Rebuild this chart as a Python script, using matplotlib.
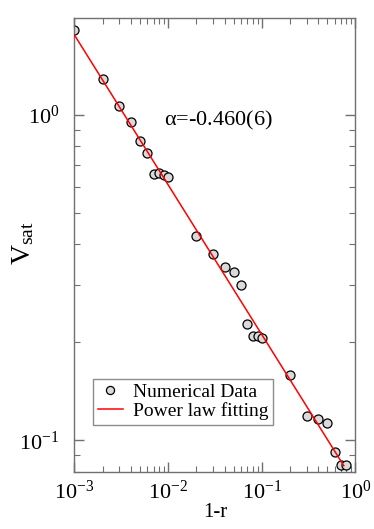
import numpy as np
import matplotlib.pyplot as plt
from matplotlib.ticker import LogLocator, NullFormatter

plt.rcParams['font.family'] = ['Liberation Serif', 'DejaVu Serif']
plt.rcParams['mathtext.fontset'] = 'custom'
plt.rcParams['mathtext.rm'] = 'Liberation Serif'
plt.rcParams['mathtext.it'] = 'Liberation Serif'

# numerical data
one_minus_r = [0.001, 0.002, 0.003, 0.004, 0.005, 0.006, 0.007, 0.008, 0.009, 0.01,
               0.02, 0.03, 0.04, 0.05, 0.06, 0.07, 0.08, 0.09, 0.1,
               0.2, 0.3, 0.4, 0.5, 0.6, 0.7, 0.8]
v_sat = [1.82, 1.29, 1.066, 0.95, 0.83, 0.76, 0.658, 0.662, 0.651, 0.642,
         0.425, 0.372, 0.341, 0.328, 0.30, 0.227, 0.209, 0.209, 0.206,
         0.159, 0.119, 0.116, 0.113, 0.092, 0.0842, 0.0842]

# power law fit  V = A * (1-r)^alpha
alpha = -0.460
amp = 0.0732
fit_range = (1e-3, 0.75)

fig = plt.figure(figsize=(3.74, 5.29), dpi=100)
ax = fig.add_axes([0.199, 0.108, 0.7515, 0.858])

xf = np.logspace(np.log10(fit_range[0]), np.log10(fit_range[1]), 100)
ax.plot(one_minus_r, v_sat, 'o', ms=6.5, mfc='#dadada', mec='black', mew=0.9,
        label='Numerical Data', zorder=2)
ax.plot(xf, amp * xf ** alpha, color='red', lw=1.1, label='Power law fitting', zorder=3)

ax.set_xscale('log')
ax.set_yscale('log')
ax.set_xlim(1e-3, 1)
ax.set_ylim(0.08, 1.98)

ax.xaxis.set_major_locator(LogLocator(base=10, numticks=10))
ax.yaxis.set_major_locator(LogLocator(base=10, numticks=10))
ax.xaxis.set_minor_locator(LogLocator(base=10, subs=np.arange(2, 10), numticks=10))
ax.yaxis.set_minor_locator(LogLocator(base=10, subs=np.arange(2, 10), numticks=10))
ax.yaxis.set_minor_formatter(NullFormatter())
ax.xaxis.set_minor_formatter(NullFormatter())

for s in ax.spines.values():
    s.set_color('#707070')
    s.set_linewidth(1.0)
ax.tick_params(which='both', direction='in', top=True, right=True, color='#707070',
               labelsize=16)
ax.tick_params(axis='x', pad=6)
ax.tick_params(axis='y', pad=11)
ax.tick_params(which='major', length=7, width=1.0)
ax.tick_params(which='minor', length=4, width=0.8)

ax.set_xlabel('1-r', fontsize=15, labelpad=0)
ax.set_ylabel(r'V$_{\rm sat}$', fontsize=20)
ax.yaxis.set_label_coords(-0.135, 0.505)

ax.text(0.32, 0.775, r'$\alpha$=-0.460(6)', transform=ax.transAxes, fontsize=16,
        va='center', ha='left')

ax.legend(loc='upper left', bbox_to_anchor=(0.066, 0.205), borderaxespad=0,
          fontsize=14, frameon=True, fancybox=False, edgecolor='#707070',
          handlelength=1.3, handletextpad=0.5, labelspacing=0.05,
          borderpad=0.25, markerscale=0.9)

fig.savefig('out.png', dpi=100)
